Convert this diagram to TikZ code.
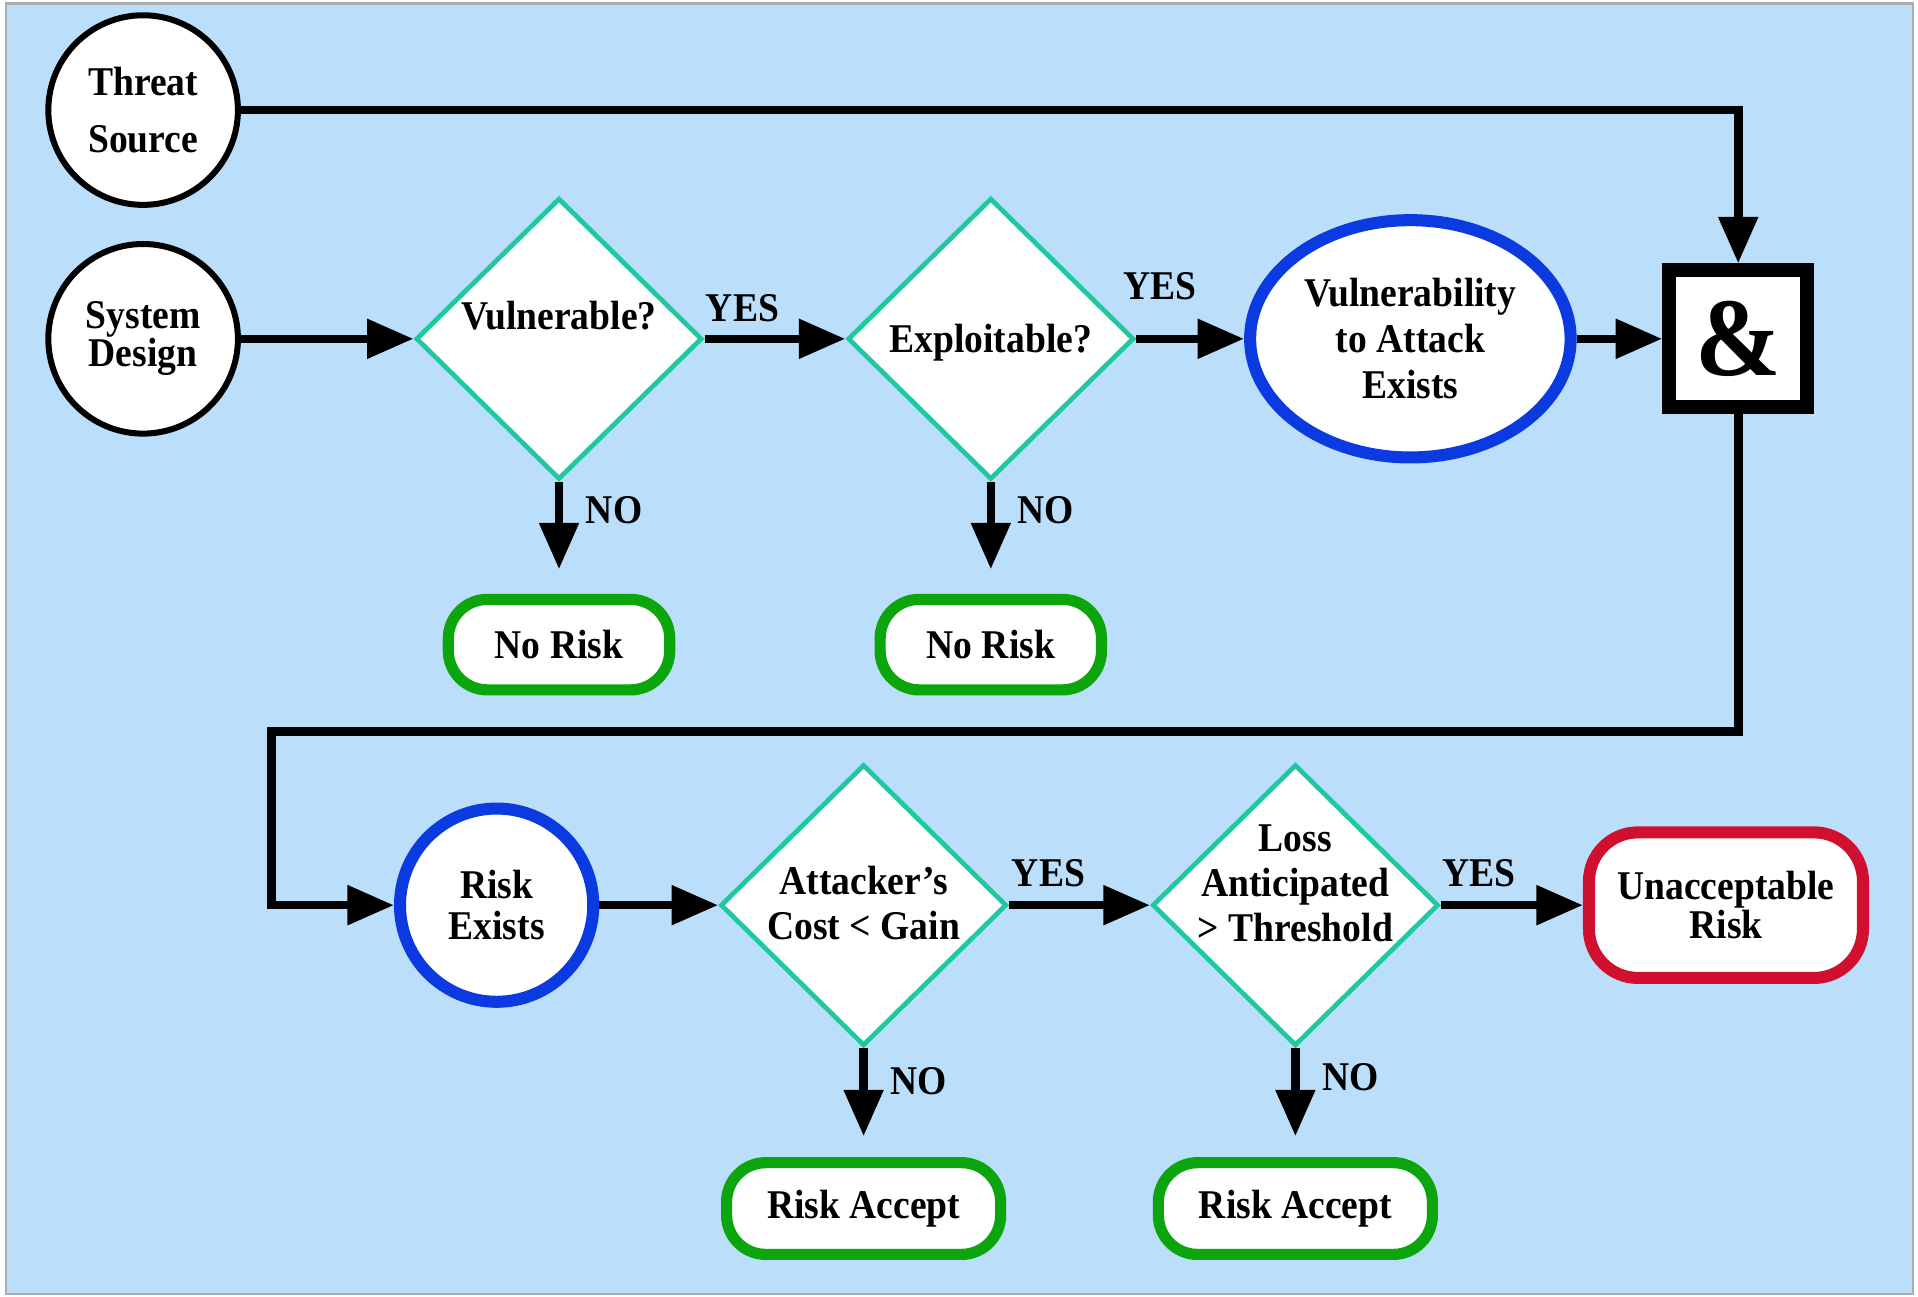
\documentclass[tikz,border=0pt]{standalone}
\usepackage{fontspec}
\setmainfont{Liberation Serif}[FakeStretch=0.92]
\usetikzlibrary{arrows.meta, shapes.geometric, positioning}
\definecolor{panelbg}{HTML}{BBDEFB}
\definecolor{decisionline}{HTML}{1FC99E}
\definecolor{stateblue}{HTML}{0A3AE0}
\definecolor{okgreen}{HTML}{0CA60C}
\definecolor{alertred}{HTML}{D0102E}

\begin{document}
\begin{tikzpicture}[
  line join=miter,
  lbl/.style={font=\fontsize{9.5}{#1}\selectfont\bfseries, text=black, align=center},
  lbl/.default=10.5pt,
  source/.style={circle, draw=black, line width=1.4pt, fill=white, minimum size=1.55cm, inner sep=0pt},
  decision/.style={diamond, draw=decisionline, line width=1.1pt, fill=white,
                   minimum width=2.34cm, minimum height=2.30cm, inner sep=0pt},
  state/.style={draw=stateblue, line width=2.8pt, fill=white, inner sep=0pt},
  outcome/.style={rectangle, rounded corners=0.32cm, draw=okgreen, line width=2.6pt, fill=white,
                  minimum width=2.24cm, minimum height=0.75cm, inner sep=0pt},
  flow/.style={line width=2pt, -{Triangle[length=0.38cm, width=0.31cm]}},
  tag/.style={font=\fontsize{9.5}{11}\selectfont\bfseries, inner sep=1pt},
]

\path[use as bounding box] (0,0) rectangle (15.68,10.60);
\draw[gray!65, line width=0.6pt, fill=panelbg] (0.05,0.02) rectangle (15.64,10.57);

% Inputs
\node[source, lbl=13.4pt] (threat) at (1.17,9.70) {Threat\\Source};
\node[source, lbl=8.8pt]  (sysdes) at (1.17,7.83) {System\\Design};

% Upper row
\node[decision, label={[lbl, yshift=0.19cm]center:Vulnerable?}] (vuln) at (4.57,7.83) {};
\node[decision, label={[lbl, yshift=-0.03cm]center:Exploitable?}] (expl) at (8.10,7.83) {};
\node[state, ellipse, minimum width=2.62cm, minimum height=1.94cm, lbl=10.7pt]
  (vulnex) at (11.53,7.83) {Vulnerability\\to Attack\\Exists};
\node[draw=black, line width=3.2pt, fill=white, minimum width=1.13cm, minimum height=1.12cm,
      inner sep=0pt, font=\fontsize{26}{28}\selectfont\bfseries] (andbox) at (14.21,7.83) {\&};
\node[outcome, minimum width=1.81cm, minimum height=0.74cm, lbl] (norisk1) at (4.57,5.33) {No Risk};
\node[outcome, minimum width=1.81cm, minimum height=0.74cm, lbl] (norisk2) at (8.10,5.33) {No Risk};

% Lower row
\coordinate (loopturn) at (2.22,4.62);
\node[state, circle, minimum size=1.58cm, lbl=9.4pt] (riskex) at (4.06,3.20) {Risk\\Exists};
\node[decision, label={[lbl, yshift=0.02cm]center:{Attacker’s\\Cost < Gain}}] (cost) at (7.06,3.20) {};
\node[decision, label={[lbl, yshift=0.18cm]center:{Loss\\Anticipated\\> Threshold}}] (loss) at (10.59,3.20) {};
\node[rectangle, rounded corners=0.4cm, draw=alertred, line width=2.8pt, fill=white,
      minimum width=2.24cm, minimum height=1.19cm, inner sep=0pt, lbl=9.1pt]
  (unacc) at (14.11,3.20) {Unacceptable\\Risk};
\node[outcome, lbl] (accept1) at (7.06,0.72) {Risk Accept};
\node[outcome, lbl] (accept2) at (10.59,0.72) {Risk Accept};

% Connectors
\draw[flow] (threat) -| (andbox);
\draw[flow] (sysdes) -- (vuln);
\draw[flow] (vuln) -- node[tag, pos=0.27, above=0.07cm] {YES} (expl);
\draw[flow] (expl) -- node[tag, pos=0.22, above=0.25cm] {YES} (vulnex);
\draw[flow] (vulnex) -- (andbox);
\draw[flow, shorten >=0.2cm] (vuln) -- node[tag, pos=0.25, right=0.15cm] {NO} (norisk1);
\draw[flow, shorten >=0.2cm] (expl) -- node[tag, pos=0.25, right=0.15cm] {NO} (norisk2);
\draw[flow] (andbox) |- (loopturn) |- (riskex);
\draw[flow] (riskex) -- (cost);
\draw[flow] (cost) -- node[tag, pos=0.28, above=0.08cm] {YES} (loss);
\draw[flow] (loss) -- node[tag, pos=0.27, above=0.08cm] {YES} (unacc);
\draw[flow, shorten >=0.17cm] (cost) -- node[tag, pos=0.3, right=0.15cm] {NO} (accept1);
\draw[flow, shorten >=0.17cm] (loss) -- node[tag, pos=0.27, right=0.15cm] {NO} (accept2);

\end{tikzpicture}
\end{document}
